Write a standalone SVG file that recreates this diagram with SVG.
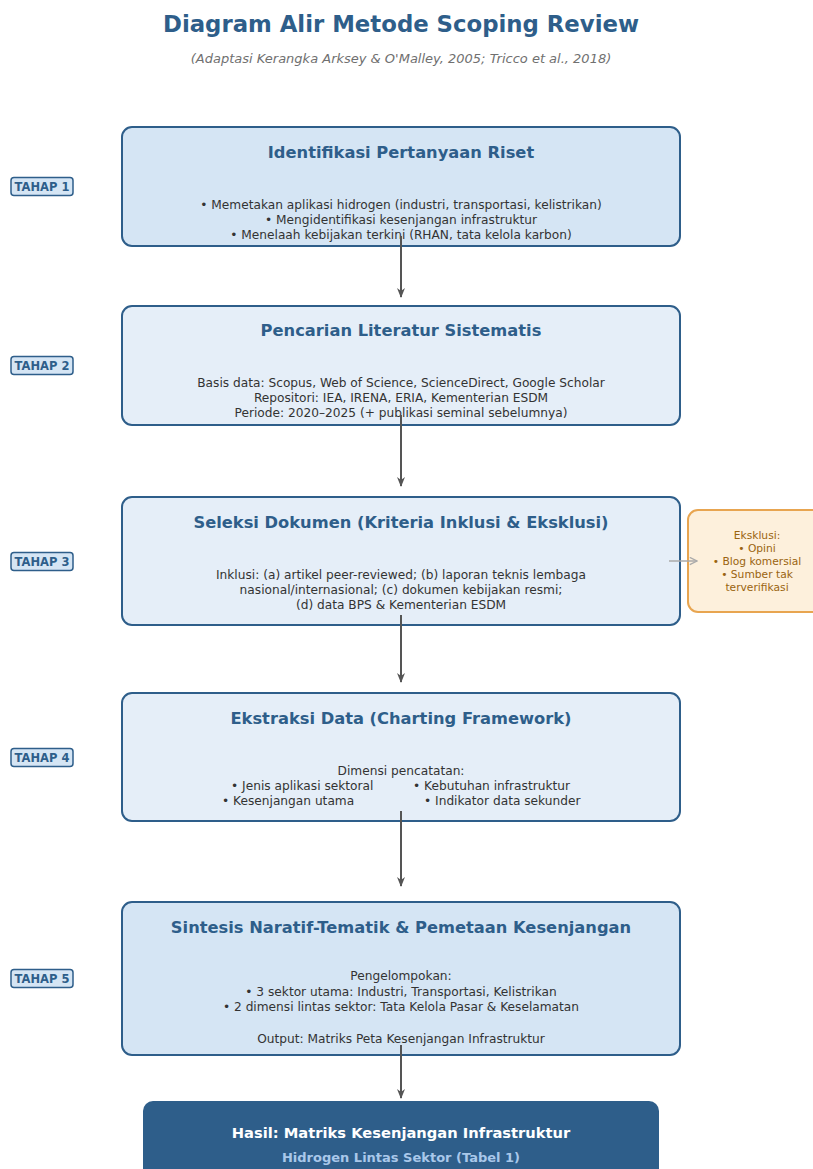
<svg xmlns="http://www.w3.org/2000/svg" width="813" height="1169" viewBox="0 0 813 1169">
<defs>
<style>
text{font-family:"DejaVu Sans","Liberation Sans",sans-serif;text-anchor:middle}
.title{font-size:22.8px;font-weight:bold;fill:#2e5e8a}
.sub{font-size:13px;font-style:italic;fill:#707070}
.box{stroke:#2e5e8a;stroke-width:2}
.dark{fill:#d5e5f4}
.light{fill:#e5eef8}
.bt{font-size:16.3px;font-weight:bold;fill:#2e5e8a}
.body{font-size:12.2px;fill:#333}
.tag rect{fill:#d5e5f4;stroke:#2e5e8a;stroke-width:1.5}
.tag text{font-size:11.5px;font-weight:bold;fill:#2e5e8a}
.conn{stroke:#555;stroke-width:2;fill:none}
.ex{font-size:10.7px;fill:#9a6410}
</style>
<marker id="ah" viewBox="0 0 10 10" refX="9" refY="5" markerWidth="5" markerHeight="5" orient="auto" markerUnits="strokeWidth">
<path d="M0,1 L10,5 L0,9 L3,5 z" fill="#555"/>
</marker>
<marker id="ag" viewBox="0 0 10 10" refX="9" refY="5" markerWidth="6" markerHeight="6" orient="auto" markerUnits="strokeWidth">
<path d="M1,1 L9,5 L1,9" fill="none" stroke="#aaa" stroke-width="1.5"/>
</marker>
</defs>
<rect width="813" height="1169" fill="#fff"/>
<text class="title" x="401" y="32">Diagram Alir Metode Scoping Review</text>
<text class="sub" x="401" y="63">(Adaptasi Kerangka Arksey &amp; O'Malley, 2005; Tricco et al., 2018)</text>

<g id="tahap1" class="tag"><rect x="11" y="177.5" width="62" height="18" rx="3"/><text x="42" y="190.5">TAHAP 1</text></g>
<g id="tahap2" class="tag"><rect x="11" y="356.5" width="62" height="18" rx="3"/><text x="42" y="369.5">TAHAP 2</text></g>
<g id="tahap3" class="tag"><rect x="11" y="552.5" width="62" height="18" rx="3"/><text x="42" y="565.5">TAHAP 3</text></g>
<g id="tahap4" class="tag"><rect x="11" y="748.5" width="62" height="18" rx="3"/><text x="42" y="761.5">TAHAP 4</text></g>
<g id="tahap5" class="tag"><rect x="11" y="969.5" width="62" height="18" rx="3"/><text x="42" y="982.5">TAHAP 5</text></g>

<g id="step1">
<rect class="box dark" x="122" y="127" width="558" height="119" rx="10"/>
<text class="bt" x="401" y="158">Identifikasi Pertanyaan Riset</text>
<text class="body" x="401" y="209">• Memetakan aplikasi hidrogen (industri, transportasi, kelistrikan)</text>
<text class="body" x="401" y="224">• Mengidentifikasi kesenjangan infrastruktur</text>
<text class="body" x="401" y="239">• Menelaah kebijakan terkini (RHAN, tata kelola karbon)</text>
</g>
<g id="step2">
<rect class="box light" x="122" y="306" width="558" height="119" rx="10"/>
<text class="bt" x="401" y="336">Pencarian Literatur Sistematis</text>
<text class="body" x="401" y="387">Basis data: Scopus, Web of Science, ScienceDirect, Google Scholar</text>
<text class="body" x="401" y="402">Repositori: IEA, IRENA, ERIA, Kementerian ESDM</text>
<text class="body" x="401" y="417">Periode: 2020–2025 (+ publikasi seminal sebelumnya)</text>
</g>
<g id="step3">
<rect class="box light" x="122" y="497" width="558" height="128" rx="10"/>
<text class="bt" x="401" y="528">Seleksi Dokumen (Kriteria Inklusi &amp; Eksklusi)</text>
<text class="body" x="401" y="579">Inklusi: (a) artikel peer-reviewed; (b) laporan teknis lembaga</text>
<text class="body" x="401" y="594">nasional/internasional; (c) dokumen kebijakan resmi;</text>
<text class="body" x="401" y="609">(d) data BPS &amp; Kementerian ESDM</text>
</g>
<g id="exclusion">
<rect x="688" y="510" width="140" height="102" rx="10" fill="#fdf0dc" stroke="#e8a550" stroke-width="2"/>
<text class="ex" x="757" y="539">Eksklusi:</text>
<text class="ex" x="757" y="552">• Opini</text>
<text class="ex" x="757" y="565">• Blog komersial</text>
<text class="ex" x="757" y="578">• Sumber tak</text>
<text class="ex" x="757" y="591">terverifikasi</text>
</g>
<g id="step4">
<rect class="box light" x="122" y="693" width="558" height="128" rx="10"/>
<text class="bt" x="401" y="724">Ekstraksi Data (Charting Framework)</text>
<text class="body" x="401" y="775">Dimensi pencatatan:</text>
<text class="body" y="790" style="text-anchor:start"><tspan x="231">• Jenis aplikasi sektoral</tspan><tspan x="413">• Kebutuhan infrastruktur</tspan></text>
<text class="body" y="805" style="text-anchor:start"><tspan x="222">• Kesenjangan utama</tspan><tspan x="424">• Indikator data sekunder</tspan></text>
</g>
<g id="step5">
<rect class="box dark" x="122" y="902" width="558" height="153" rx="10"/>
<text class="bt" x="401" y="933">Sintesis Naratif-Tematik &amp; Pemetaan Kesenjangan</text>
<text class="body" x="401" y="980">Pengelompokan:</text>
<text class="body" x="401" y="996">• 3 sektor utama: Industri, Transportasi, Kelistrikan</text>
<text class="body" x="401" y="1011">• 2 dimensi lintas sektor: Tata Kelola Pasar &amp; Keselamatan</text>
<text class="body" x="401" y="1043">Output: Matriks Peta Kesenjangan Infrastruktur</text>
</g>
<g id="result">
<rect x="143" y="1101" width="516" height="90" rx="10" fill="#2e5e8a"/>
<text x="401" y="1138" style="font-size:14.7px;font-weight:bold;fill:#fff">Hasil: Matriks Kesenjangan Infrastruktur</text>
<text x="401" y="1162" style="font-size:13px;font-weight:bold;fill:#a9c8ea">Hidrogen Lintas Sektor (Tabel 1)</text>
</g>

<g id="connectors">
<line class="conn" x1="401" y1="236" x2="401" y2="297" marker-end="url(#ah)"/>
<line class="conn" x1="401" y1="415" x2="401" y2="486" marker-end="url(#ah)"/>
<line class="conn" x1="401" y1="615" x2="401" y2="682" marker-end="url(#ah)"/>
<line class="conn" x1="401" y1="811" x2="401" y2="886" marker-end="url(#ah)"/>
<line class="conn" x1="401" y1="1045" x2="401" y2="1098" marker-end="url(#ah)"/>
<line x1="669" y1="561" x2="697" y2="561" stroke="#aaa" stroke-width="1.5" marker-end="url(#ag)"/>
</g>
</svg>
